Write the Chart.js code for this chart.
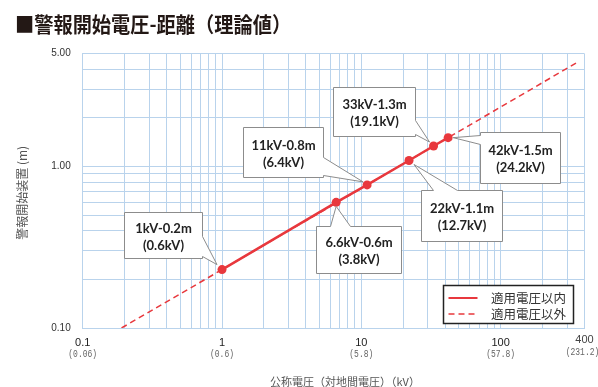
<!DOCTYPE html>
<html><head><meta charset="utf-8">
<script src="https://cdn.jsdelivr.net/npm/chart.js@4.4.1/dist/chart.umd.min.js"></script>
<style>
html,body{margin:0;padding:0;background:#fff;}
#wrap{position:relative;width:598px;height:387px;overflow:hidden;}
#title{position:absolute;left:15px;top:9px;font-family:"Noto Sans CJK JP";font-weight:700;font-size:21px;line-height:28px;color:#231815;white-space:nowrap;transform:scaleX(0.915);transform-origin:left center;}
canvas{position:absolute;left:0;top:0;}
</style></head>
<body><div id="wrap"><canvas id="c" width="598" height="387"></canvas><div id="title">■警報開始電圧-距離（理論値）</div></div>
<script>
// ---- data ----
const nominalKV = [1, 6.6, 11, 22, 33, 42];
const distanceM = [0.23, 0.60, 0.77, 1.09, 1.34, 1.51];
const dashedKV = [0.19, 1, 42, 360];
const dashedM = [0.10, 0.23, 1.51, 4.45];
const calloutLine1 = ['1kV-0.2m', '6.6kV-0.6m', '11kV-0.8m', '22kV-1.1m', '33kV-1.3m', '42kV-1.5m'];
const calloutLine2 = ['(0.6kV)', '(3.8kV)', '(6.4kV)', '(12.7kV)', '(19.1kV)', '(24.2kV)'];
const xTickValues = [0.1, 1, 10, 100, 400];
const xTickLabels = ['0.1', '1', '10', '100', '400'];
const xTickSubLabels = ['(0.06)', '(0.6)', '(5.8)', '(57.8)', '(231.2)'];
const xGridValues = [0.1,0.2,0.3,0.4,0.5,0.6,0.7,0.8,0.9,1,2,3,4,5,6,7,8,9,10,20,30,40,50,60,70,80,90,100,200,300,400];
const yGridValues = [0.1,0.2,0.3,0.4,0.5,0.6,0.7,0.8,0.9,1,2,3,4,5];
const yTickLabelValues = [0.1, 1, 5];
const legendLabels = ['適用電圧以内', '適用電圧以外'];
const xAxisTitle = '公称電圧（対地間電圧）（kV）';
const yAxisTitle = '警報開始装置 (m)';

// ---- styles / layout ----
const RED = '#e8383d';
const GRID = '#b9d3ec';
const calloutLayout = [
  {dx:-98, dy:-58, w:78, h:46, side:'right', a:24, b:44, tx:-5, ty:-5},
  {dx:-20, dy:24, w:85, h:47, side:'top', a:14, b:34, tx:0, ty:4},
  {dx:-124, dy:-58, w:80, h:50, side:'right', a:30, b:48, tx:-4, ty:-3},
  {dx:12, dy:29, w:81, h:51, side:'top', a:12, b:36, tx:5, ty:4},
  {dx:-101, dy:-59, w:82, h:49, side:'right', a:33, b:47, tx:-4, ty:-4},
  {dx:32, dy:-6, w:80, h:51, side:'left', a:3, b:12, tx:5, ty:0}
];

function calloutPath(ctx, x, y, w, h, c, tx, ty) {
  ctx.beginPath();
  ctx.moveTo(x, y);
  if (c.side === 'top') { ctx.lineTo(x + c.a, y); ctx.lineTo(tx, ty); ctx.lineTo(x + c.b, y); }
  ctx.lineTo(x + w, y);
  if (c.side === 'right') { ctx.lineTo(x + w, y + c.a); ctx.lineTo(tx, ty); ctx.lineTo(x + w, y + c.b); }
  ctx.lineTo(x + w, y + h);
  if (c.side === 'bottom') { ctx.lineTo(x + c.b, y + h); ctx.lineTo(tx, ty); ctx.lineTo(x + c.a, y + h); }
  ctx.lineTo(x, y + h);
  if (c.side === 'left') { ctx.lineTo(x, y + c.b); ctx.lineTo(tx, ty); ctx.lineTo(x, y + c.a); }
  ctx.closePath();
}

const overlay = {
  id: 'overlay',
  afterDraw(chart) {
    const ctx = chart.ctx;
    const xs = chart.scales.x, area = chart.chartArea;
    ctx.save();
    // x tick labels (two lines)
    ctx.textAlign = 'center';
    ctx.textBaseline = 'middle';
    xTickValues.forEach((v, i) => {
      const px = xs.getPixelForValue(v);
      const last = i === xTickValues.length - 1;
      ctx.fillStyle = last ? '#444' : '#222';
      ctx.font = '11px "Liberation Sans"';
      ctx.fillText(xTickLabels[i], px, area.bottom + (last ? 12 : 14.5));
      ctx.save();
      ctx.translate(px - (last ? 2 : 0), area.bottom + (last ? 24.5 : 26.5));
      ctx.scale(0.8, 1);
      ctx.fillStyle = '#666';
      ctx.font = '10px "Liberation Mono"';
      ctx.fillText(xTickSubLabels[i], 0, 0);
      ctx.restore();
    });
    // axis titles
    ctx.fillStyle = '#555';
    ctx.font = '11px "Noto Sans CJK JP"';
    ctx.fillText(xAxisTitle, 345, 381.5);
    ctx.save();
    ctx.translate(22, (area.top + area.bottom) / 2 + 2);
    ctx.rotate(-Math.PI / 2);
    ctx.font = '12px "Noto Sans CJK JP"';
    ctx.fillText(yAxisTitle, 0, 0);
    ctx.restore();
    // legend
    const lx = Math.round(area.right - 12 - 130) + 0.5, ly = Math.round(area.bottom - 5 - 38) + 0.5;
    ctx.fillStyle = '#fff';
    ctx.fillRect(lx, ly, 130, 38);
    ctx.strokeStyle = '#222';
    ctx.lineWidth = 1.5;
    ctx.strokeRect(lx, ly, 130, 38);
    ctx.strokeStyle = RED;
    ctx.lineWidth = 2;
    ctx.beginPath(); ctx.moveTo(lx + 5, ly + 12.5); ctx.lineTo(lx + 34, ly + 12.5); ctx.stroke();
    ctx.lineWidth = 1.5;
    ctx.setLineDash([6, 4]);
    ctx.beginPath(); ctx.moveTo(lx + 5, ly + 28.5); ctx.lineTo(lx + 34, ly + 28.5); ctx.stroke();
    ctx.setLineDash([]);
    ctx.fillStyle = '#333';
    ctx.textAlign = 'left';
    ctx.font = '12.5px "Noto Sans CJK JP"';
    ctx.fillText(legendLabels[0], lx + 47.5, ly + 12.5);
    ctx.fillText(legendLabels[1], lx + 47.5, ly + 28.5);
    // callouts
    const meta = chart.getDatasetMeta(0);
    meta.data.forEach((pt, i) => {
      const c = calloutLayout[i];
      const bx = Math.round(pt.x + c.dx) + 0.5, by = Math.round(pt.y + c.dy) + 0.5;
      calloutPath(ctx, bx, by, c.w, c.h, c, pt.x + c.tx, pt.y + c.ty);
      ctx.fillStyle = '#fff';
      ctx.fill();
      ctx.strokeStyle = '#8c8c8c';
      ctx.lineWidth = 1;
      ctx.stroke();
      ctx.fillStyle = '#222';
      ctx.textAlign = 'center';
      ctx.font = 'bold 13px Lato';
      const cx = bx + c.w / 2, cy = by + c.h / 2;
      ctx.fillText(calloutLine1[i], cx, cy - 7);
      ctx.fillText(calloutLine2[i], cx, cy + 10);
    });
    ctx.restore();
  }
};

new Chart(document.getElementById('c'), {
  type: 'scatter',
  data: {
    datasets: [
      {
        label: legendLabels[0],
        data: nominalKV.map((v, i) => ({x: v, y: distanceM[i]})),
        showLine: true, borderColor: RED, backgroundColor: RED,
        borderWidth: 2.5, pointRadius: 4.5, pointHoverRadius: 4.5, pointBorderWidth: 0,
        order: 0
      },
      {
        label: legendLabels[1],
        data: dashedKV.map((v, i) => ({x: v, y: dashedM[i]})),
        showLine: true, borderColor: RED, backgroundColor: RED,
        borderWidth: 1.5, borderDash: [6, 4], pointRadius: 0, pointHoverRadius: 0,
        order: 1
      }
    ]
  },
  options: {
    responsive: false, animation: false, devicePixelRatio: 1,
    layout: {padding: {left: 0, right: 13.5, top: 53.7, bottom: 0}},
    plugins: {legend: {display: false}, tooltip: {enabled: false}, title: {display: false}},
    events: [],
    scales: {
      x: {
        type: 'logarithmic', min: 0.1, max: 400,
        afterBuildTicks: s => { s.ticks = xGridValues.map(v => ({value: v})); },
        ticks: {display: false, autoSkip: false},
        grid: {color: GRID, drawTicks: false, lineWidth: 1},
        border: {color: GRID},
        afterFit: s => { s.height = 59; }
      },
      y: {
        type: 'logarithmic', min: 0.1, max: 5,
        afterBuildTicks: s => { s.ticks = yGridValues.map(v => ({value: v})); },
        ticks: {
          autoSkip: false, padding: 12, color: '#333',
          font: {family: 'Liberation Sans', size: 10},
          callback: v => yTickLabelValues.includes(v) ? v.toFixed(2) : ''
        },
        grid: {color: GRID, drawTicks: false, lineWidth: 1},
        border: {color: GRID},
        afterFit: s => { s.width = 82.7; }
      }
    }
  },
  plugins: [overlay]
});
</script>
</body></html>
